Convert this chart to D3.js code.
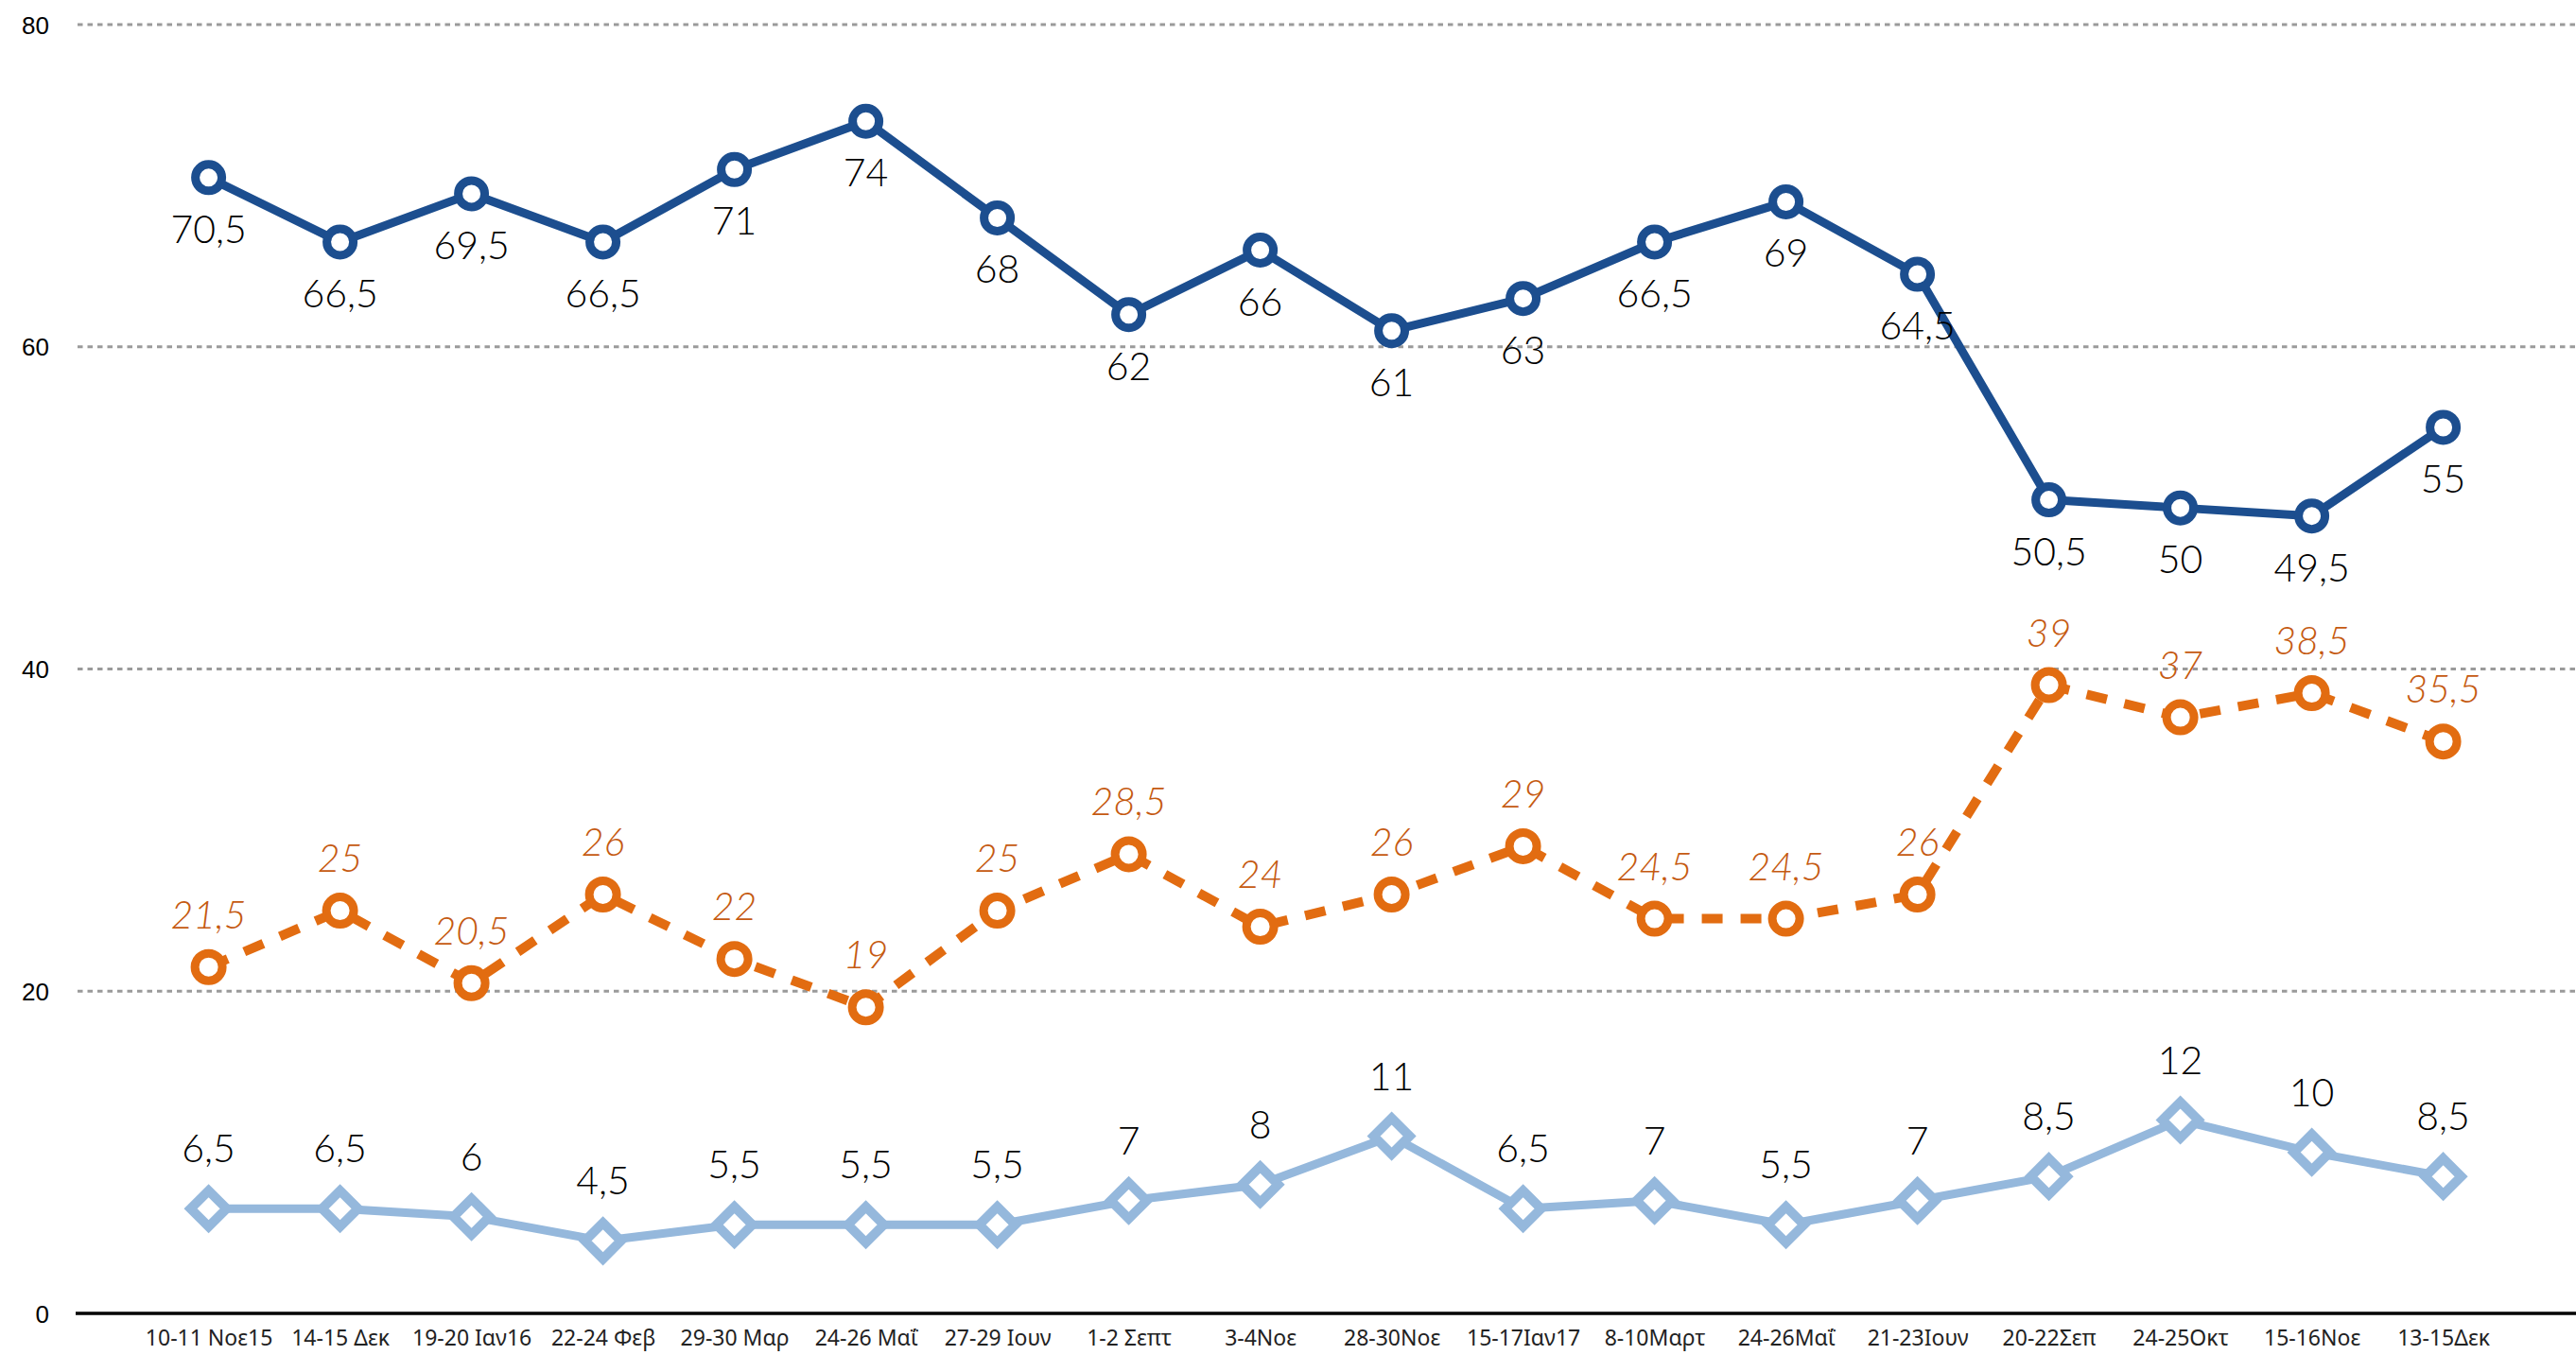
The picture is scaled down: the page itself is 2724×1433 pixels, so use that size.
<!DOCTYPE html>
<html>
<head>
<meta charset="utf-8">
<script src="https://cdn.jsdelivr.net/npm/d3@7/dist/d3.min.js"></script>
<style>
  html, body { margin: 0; padding: 0; background: #fff; }
  svg { display: block; }
</style>
</head>
<body>
<svg id="chart" width="2724" height="1433"></svg>
<script>
const categories = ["10-11 Νοε15", "14-15 Δεκ", "19-20 Ιαν16", "22-24 Φεβ", "29-30 Μαρ", "24-26 Μαΐ", "27-29 Ιουν", "1-2 Σεπτ", "3-4Νοε", "28-30Νοε", "15-17Ιαν17", "8-10Μαρτ", "24-26Μαΐ", "21-23Ιουν", "20-22Σεπ", "24-25Οκτ", "15-16Νοε", "13-15Δεκ"];
const seriesTop = [70.5, 66.5, 69.5, 66.5, 71, 74, 68, 62, 66, 61, 63, 66.5, 69, 64.5, 50.5, 50, 49.5, 55];
const seriesMid = [21.5, 25, 20.5, 26, 22, 19, 25, 28.5, 24, 26, 29, 24.5, 24.5, 26, 39, 37, 38.5, 35.5];
const seriesLow = [6.5, 6.5, 6, 4.5, 5.5, 5.5, 5.5, 7, 8, 11, 6.5, 7, 5.5, 7, 8.5, 12, 10, 8.5];
const yTicks = [0, 20, 40, 60, 80];

const svg = d3.select("#chart");
const plotLeft = 80, plotRight = 2724;

const x = d3.scalePoint().domain(categories).range([220.6, 2583.6]);
const y = d3.scaleLinear().domain([0, 80]).range([1389, 26]);

const fmt = v => String(v).replace(".", ",");
const labelFont = "Lato, 'Noto Sans', sans-serif";

// gridlines
svg.append("g").selectAll("line")
  .data(yTicks.filter(t => t > 0))
  .join("line")
  .attr("x1", 82).attr("x2", plotRight)
  .attr("y1", d => y(d)).attr("y2", d => y(d))
  .attr("stroke", "#9a9a9a").attr("stroke-width", 3)
  .attr("stroke-dasharray", "5.5 5");

// y axis labels
const yAxis = d3.axisLeft(y).tickValues(yTicks).tickSize(0).tickPadding(0).tickFormat(d3.format("d"));
const yg = svg.append("g").attr("transform", "translate(52,0)").call(yAxis);
yg.select(".domain").remove();
yg.selectAll("text")
  .attr("font-family", "'Liberation Sans', Arial, sans-serif")
  .attr("font-size", 26)
  .attr("fill", "#000")
  .attr("dy", "0.35em");

// x axis
const xAxis = d3.axisBottom(x).tickSize(0).tickPadding(0);
const xg = svg.append("g").attr("transform", `translate(0,${y(0)})`).call(xAxis);
xg.select(".domain").remove();
xg.selectAll("text")
  .attr("font-family", "'Noto Sans', 'DejaVu Sans', sans-serif")
  .attr("font-size", 23)
  .attr("fill", "#222")
  .attr("dy", null)
  .attr("y", 34);

svg.append("line")
  .attr("x1", plotLeft).attr("x2", plotRight)
  .attr("y1", y(0)).attr("y2", y(0))
  .attr("stroke", "#000").attr("stroke-width", 3.5);

const line = d3.line().x((d, i) => x(categories[i])).y(d => y(d));

// low series (light blue diamonds)
const cLow = "#95b8dc";
svg.append("path").datum(seriesLow)
  .attr("d", line).attr("fill", "none")
  .attr("stroke", cLow).attr("stroke-width", 9).attr("stroke-linejoin", "round");
const dia = 19;
svg.append("g").selectAll("path").data(seriesLow).join("path")
  .attr("d", (d, i) => {
    const cx = x(categories[i]), cy = y(d);
    return `M${cx},${cy - dia}L${cx + dia},${cy}L${cx},${cy + dia}L${cx - dia},${cy}Z`;
  })
  .attr("fill", "#fff").attr("stroke", cLow).attr("stroke-width", 10).attr("stroke-linejoin", "miter");
svg.append("g").selectAll("text").data(seriesLow).join("text")
  .attr("x", (d, i) => x(categories[i]))
  .attr("y", d => y(d) - 49)
  .attr("text-anchor", "middle")
  .attr("font-family", labelFont)
  .attr("font-weight", 300)
  .attr("font-size", 41)
  .attr("fill", "#000")
  .text(fmt);

// mid series (orange dashed)
const cMid = "#e26c11";
svg.append("path").datum(seriesMid)
  .attr("d", line).attr("fill", "none")
  .attr("stroke", cMid).attr("stroke-width", 10)
  .attr("stroke-dasharray", "22 19");
svg.append("g").selectAll("circle").data(seriesMid).join("circle")
  .attr("cx", (d, i) => x(categories[i])).attr("cy", d => y(d))
  .attr("r", 14.5)
  .attr("fill", "#fff").attr("stroke", cMid).attr("stroke-width", 9);
svg.append("g").selectAll("text").data(seriesMid).join("text")
  .attr("x", (d, i) => x(categories[i]))
  .attr("y", d => y(d) - 41)
  .attr("text-anchor", "middle")
  .attr("font-family", labelFont)
  .attr("font-weight", 300)
  .attr("font-style", "italic")
  .attr("font-size", 41)
  .attr("fill", "#c55a11")
  .text(fmt);

// top series (dark blue)
const cTop = "#1c4e8f";
svg.append("path").datum(seriesTop)
  .attr("d", line).attr("fill", "none")
  .attr("stroke", cTop).attr("stroke-width", 9).attr("stroke-linejoin", "round");
svg.append("g").selectAll("circle").data(seriesTop).join("circle")
  .attr("cx", (d, i) => x(categories[i])).attr("cy", d => y(d))
  .attr("r", 14)
  .attr("fill", "#fff").attr("stroke", cTop).attr("stroke-width", 9);
svg.append("g").selectAll("text").data(seriesTop).join("text")
  .attr("x", (d, i) => x(categories[i]))
  .attr("y", d => y(d) + 69)
  .attr("text-anchor", "middle")
  .attr("font-family", labelFont)
  .attr("font-weight", 300)
  .attr("font-size", 41)
  .attr("fill", "#000")
  .text(fmt);
</script>
</body>
</html>
